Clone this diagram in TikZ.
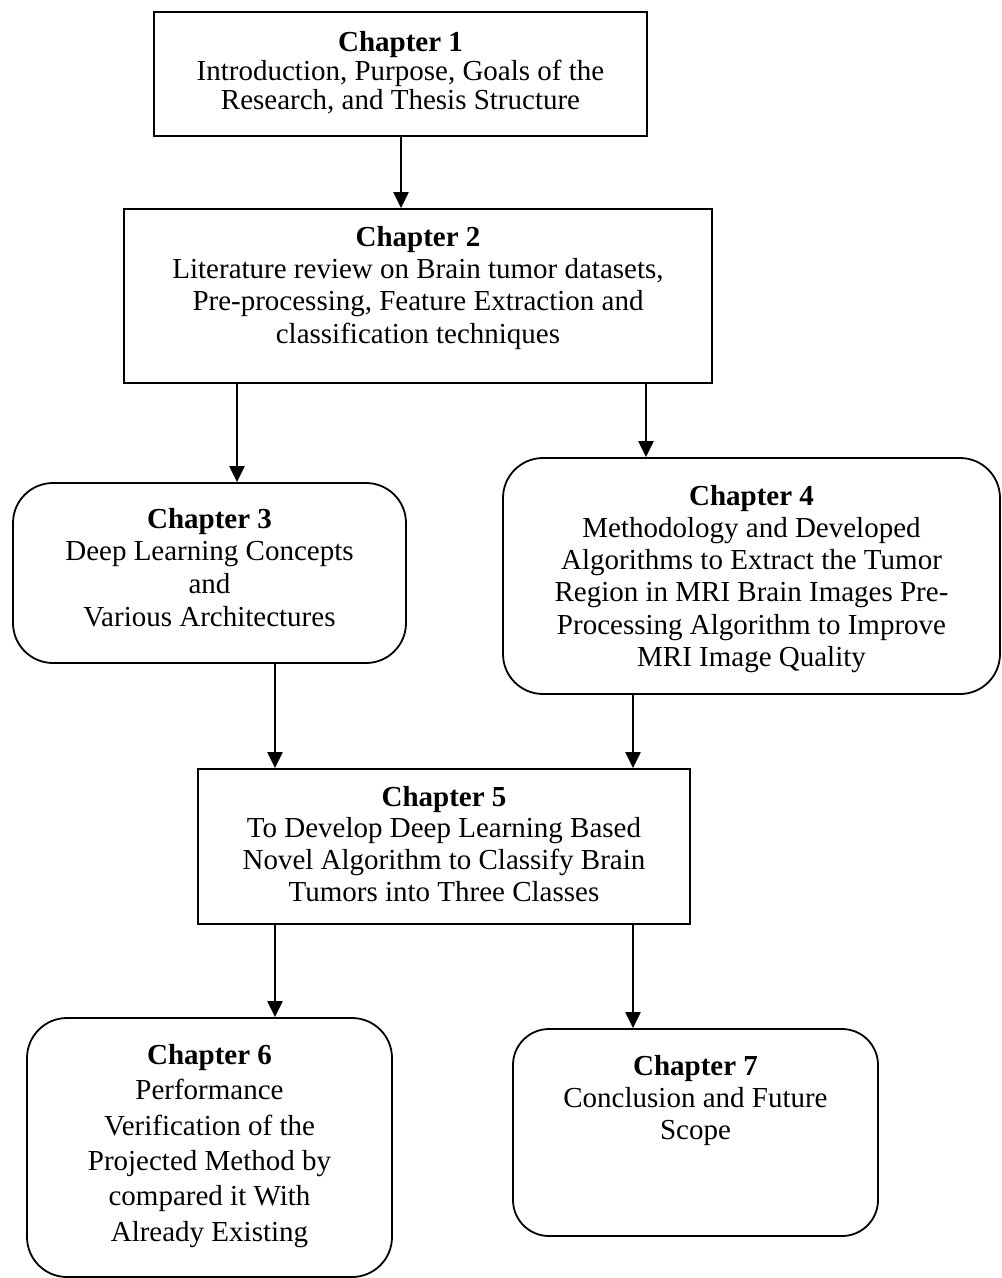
\documentclass[tikz,border=0pt]{standalone}
\usepackage{fontspec}
\setmainfont{Liberation Serif}
\usetikzlibrary{arrows.meta}
\begin{document}
\begin{tikzpicture}[x=1pt,y=-1pt,
  chapbox/.style={draw=black, line width=1.8pt, inner sep=0pt},
  roundbox/.style={chapbox, rounded corners=40pt},
  chaptext/.style={anchor=north, align=center, inner sep=0pt},
  arr/.style={line width=2.2pt, -{Triangle[width=15pt,length=16pt]}}
]
\useasboundingbox (0,0) rectangle (1002,1278);

% chapter frames
\node[chapbox, minimum width=493pt, minimum height=124pt] (ch1) at (400.5,74) {};
\node[chapbox, minimum width=588pt, minimum height=174pt] (ch2) at (418,296) {};
\node[roundbox, minimum width=393pt, minimum height=180pt] (ch3) at (209.5,573) {};
\node[roundbox, minimum width=497pt, minimum height=236pt] (ch4) at (751.5,576) {};
\node[chapbox, minimum width=492pt, minimum height=155pt] (ch5) at (444,846.5) {};
\node[roundbox, minimum width=365pt, minimum height=259pt] (ch6) at (209.5,1147.5) {};
\node[roundbox, rounded corners=36pt, minimum width=365pt, minimum height=207pt] (ch7) at (695.5,1132.5) {};

% chapter texts
\node[chaptext, font=\fontsize{29}{29}\selectfont] (ch1t) at (400.5,27)
  {\rule{0pt}{24pt}\textbf{Chapter 1}\\[0pt]Introduction, Purpose, Goals of the\\Research, and Thesis Structure};
\node[chaptext, font=\fontsize{29}{32.3}\selectfont] (ch2t) at (418,222)
  {\rule{0pt}{24pt}\textbf{Chapter 2}\\Literature review on Brain tumor datasets,\\Pre-processing, Feature Extraction and\\classification techniques};
\node[chaptext, font=\fontsize{29}{32.7}\selectfont] (ch3t) at (209.5,504)
  {\rule{0pt}{24pt}\textbf{Chapter 3}\\Deep Learning Concepts\\and\\Various Architectures};
\node[chaptext, font=\fontsize{29}{32.2}\selectfont] (ch4t) at (751.5,481)
  {\rule{0pt}{24pt}\textbf{Chapter 4}\\Methodology and Developed\\Algorithms to Extract the Tumor\\Region in MRI Brain Images Pre-\\Processing Algorithm to Improve\\MRI Image Quality};
\node[chaptext, font=\fontsize{29}{31.7}\selectfont] (ch5t) at (444,782)
  {\rule{0pt}{24pt}\textbf{Chapter 5}\\To Develop Deep Learning Based\\Novel Algorithm to Classify Brain\\Tumors into Three Classes};
\node[chaptext, font=\fontsize{29}{35.4}\selectfont] (ch6t) at (209.5,1040)
  {\rule{0pt}{24pt}\textbf{Chapter 6}\\Performance\\Verification of the\\Projected Method by\\compared it With\\Already Existing};
\node[chaptext, font=\fontsize{29}{32}\selectfont] (ch7t) at (695.5,1051)
  {\rule{0pt}{24pt}\textbf{Chapter 7}\\Conclusion and Future\\Scope};

% arrow columns
\coordinate (x0) at (401,0);
\coordinate (xa) at (237,0);
\coordinate (xb) at (646,0);
\coordinate (xc) at (275,0);
\coordinate (xd) at (633,0);

% connectors
\draw[arr] (ch1.south -| x0) -- (ch2.north -| x0);
\draw[arr] (ch2.south -| xa) -- (ch3.north -| xa);
\draw[arr] (ch2.south -| xb) -- (ch4.north -| xb);
\draw[arr] (ch3.south -| xc) -- (ch5.north -| xc);
\draw[arr] (ch4.south -| xd) -- (ch5.north -| xd);
\draw[arr] (ch5.south -| xc) -- (ch6.north -| xc);
\draw[arr] (ch5.south -| xd) -- (ch7.north -| xd);
\end{tikzpicture}
\end{document}
